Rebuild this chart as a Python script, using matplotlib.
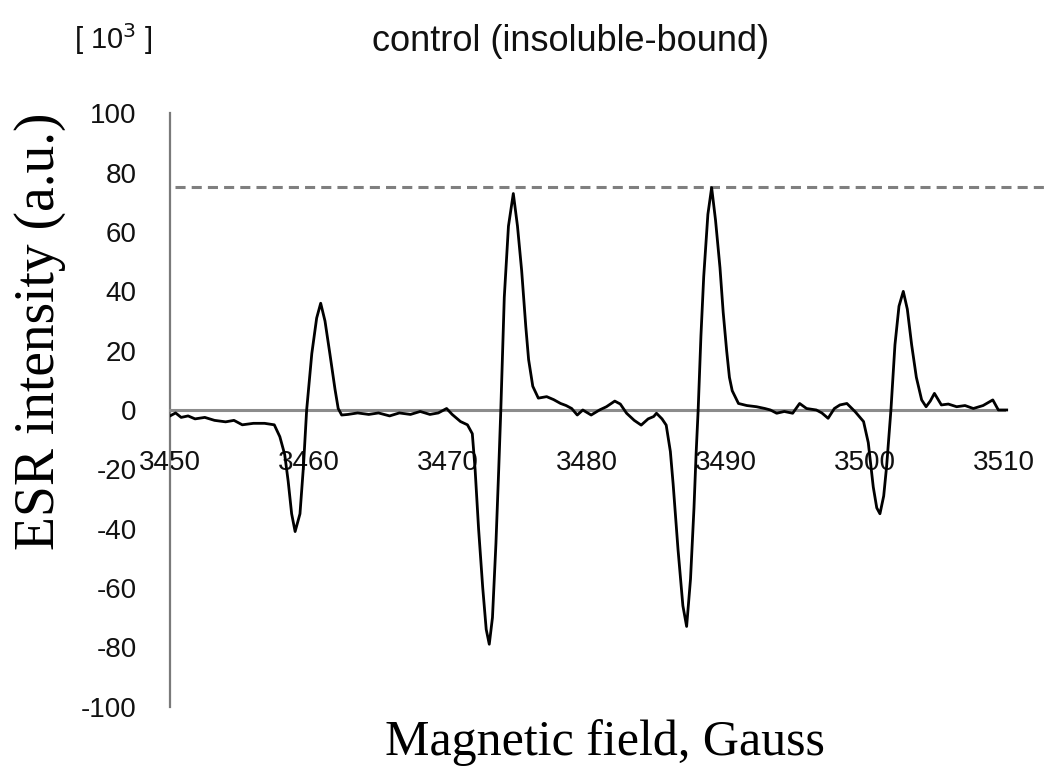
import matplotlib
matplotlib.use("Agg")
import matplotlib.pyplot as plt

# ESR spectrum, control (insoluble-bound)
field = [3450.0, 3450.4, 3450.8, 3451.3, 3451.8, 3452.5, 3453.2, 3454.0, 3454.6, 3455.2,
         3456.0, 3456.8, 3457.5, 3457.9, 3458.25, 3458.5, 3458.75, 3459.0, 3459.35, 3459.6,
         3459.83, 3460.2, 3460.55, 3460.84, 3461.15, 3461.5, 3461.87, 3462.1, 3462.35, 3462.8,
         3463.5, 3464.3, 3465.0, 3465.8, 3466.5, 3467.3, 3468.0, 3468.7, 3469.3, 3469.9,
         3470.3, 3470.9, 3471.4, 3471.75, 3471.95, 3472.2, 3472.5, 3472.75, 3472.97, 3473.2,
         3473.45, 3473.65, 3473.8, 3474.05, 3474.35, 3474.7, 3475.0, 3475.3, 3475.6, 3475.8,
         3476.1, 3476.5, 3477.1, 3477.6, 3478.1, 3478.5, 3478.9, 3479.3, 3479.7, 3480.3,
         3480.9, 3481.4, 3482.0, 3482.4, 3482.85, 3483.4, 3483.9, 3484.4, 3484.8, 3485.0,
         3485.4, 3485.7, 3486.0, 3486.2, 3486.55, 3486.9, 3487.17, 3487.45, 3487.7, 3487.85,
         3488.0, 3488.2, 3488.4, 3488.7, 3488.97, 3489.25, 3489.57, 3489.8, 3490.05, 3490.25,
         3490.45, 3490.9, 3491.5, 3492.2, 3492.8, 3493.2, 3493.65, 3494.2, 3494.8, 3495.3,
         3495.8, 3496.5, 3496.9, 3497.35, 3497.8, 3498.2, 3498.7, 3499.3, 3499.9, 3500.24,
         3500.6, 3500.85, 3501.08, 3501.35, 3501.56, 3501.87, 3502.16, 3502.45, 3502.76, 3503.05,
         3503.36, 3503.7, 3504.08, 3504.4, 3504.7, 3505.0, 3505.5, 3506.0, 3506.6, 3507.2,
         3507.8, 3508.5, 3509.2, 3509.6, 3510.2]
intensity = [-2, -1, -2.5, -2, -3, -2.5, -3.5, -4, -3.5, -5,
             -4.5, -4.5, -5, -9, -15, -24, -35, -41, -35, -19,
             0, 19, 31, 36, 30, 19, 7, 0.5, -1.7, -1.5,
             -1, -1.5, -1, -2, -1, -1.5, -0.5, -1.5, -1, 0.5,
             -1.5, -3.9, -5, -8, -20, -40, -60, -74, -79, -70,
             -45, -20, 0, 38, 62, 73, 62, 47, 28, 17,
             8, 4, 4.5, 3.5, 2.2, 1.5, 0.5, -1.7, 0, -1.7,
             0, 1.1, 3, 2, -1.1, -3.5, -5.1, -3, -2.2, -1.1,
             -3, -5.1, -14, -25, -47, -66, -73, -57, -33, -15,
             0, 25, 45, 66, 75, 64, 48, 33, 20, 11,
             6.5, 2.2, 1.5, 1.1, 0.5, 0, -1.1, -0.5, -1.1, 2.2,
             0.5, 0, -1, -2.8, 0.5, 1.7, 2.2, -0.6, -3.9, -11,
             -26, -33, -35, -29, -19, 0, 22, 35, 40, 34,
             22, 11, 3.4, 1.1, 3, 5.6, 1.7, 2, 1.1, 1.5,
             0.5, 1.5, 3.4, 0, 0]

x_ticks = [3450, 3460, 3470, 3480, 3490, 3500, 3510]
y_ticks = [100, 80, 60, 40, 20, 0, -20, -40, -60, -80, -100]
ref_level = 75.3

fig = plt.figure(figsize=(10.47, 7.74), dpi=100)
ax = fig.add_axes([0.1624, 0.0872, 0.8376, 0.7662])

ax.plot(field, intensity, color="black", lw=2.0, zorder=3)
ax.axhline(ref_level, xmin=0.006, color="#7f7f7f", lw=2.2, dashes=(3.3, 2.0), zorder=2)

ax.set_xlim(3450, 3513.1)
ax.set_ylim(-100, 100)

# axes as the original: gray lines through the origin, no tick marks
for s in ["top", "right"]:
    ax.spines[s].set_visible(False)
ax.spines["bottom"].set_position(("data", 0))
ax.spines["bottom"].set_bounds(3450, 3510)
ax.spines["bottom"].set_color("#8c8c8c")
ax.spines["bottom"].set_linewidth(2.2)
ax.spines["left"].set_bounds(-100, 100)
ax.spines["left"].set_color("#7a7a7a")
ax.spines["left"].set_linewidth(1.6)

ax.set_xticks(x_ticks)
ax.set_xticklabels([str(t) for t in x_ticks])
ax.set_yticks(y_ticks)
ax.set_yticklabels([str(t) for t in y_ticks])
ax.tick_params(axis="x", length=0, pad=29, labelsize=20, labelcolor="#111111")
ax.tick_params(axis="y", length=0, pad=24, labelsize=20, labelcolor="#111111")
for lab in ax.get_xticklabels() + ax.get_yticklabels():
    lab.set_family("Liberation Sans")

fig.text(0.545, 0.947, "control (insoluble-bound)", ha="center", va="center",
         fontsize=26, family="Liberation Sans", color="#111111")
fig.text(0.108, 0.950, "[ 10$^3$ ]", ha="center", va="center",
         fontsize=21, family="Liberation Sans", color="#111111")
fig.text(0.038, 0.572, "ESR intensity (a.u.)", rotation=90, ha="center", va="center",
         fontsize=40, family="Liberation Serif")
fig.text(0.578, 0.0245, "Magnetic field, Gauss", ha="center", va="baseline",
         fontsize=36, family="Liberation Serif")

plt.savefig("out.png", dpi=100)
